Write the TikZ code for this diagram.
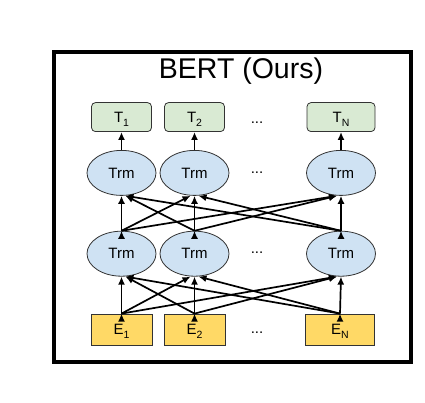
\documentclass[tikz,border=0pt]{standalone}
\usepackage{fontspec}
\setmainfont{Liberation Sans}
\usetikzlibrary{arrows.meta,positioning,shapes.geometric}
\definecolor{outGreen}{HTML}{D9EAD3}
\definecolor{trmBlue}{HTML}{CFE2F3}
\definecolor{embYellow}{HTML}{FFD966}
\definecolor{edgeGray}{HTML}{333333}
\newcommand{\lowsub}[1]{\raisebox{-4pt}{\fontsize{10.5}{12}\selectfont #1}}

\begin{document}
\begin{tikzpicture}[x=1pt,y=1pt,
				font=\fontsize{15}{17}\selectfont,
				>={Latex[length=8pt,width=7pt]},
				link/.style={->,line width=1.7pt},
				trm/.style={draw=edgeGray,fill=trmBlue,ellipse,line width=0.8pt,minimum width=69pt,minimum height=45pt,inner sep=0pt},
				outBox/.style={draw=edgeGray,fill=outGreen,rectangle,rounded corners=4pt,line width=0.8pt,minimum width=60pt,minimum height=29pt,inner sep=0pt,text depth=0pt},
				embBox/.style={draw=edgeGray,fill=embYellow,rectangle,line width=0.8pt,minimum width=61pt,minimum height=31pt,inner sep=0pt,text depth=0pt}]
			\useasboundingbox (0,0) rectangle (425,-403);
			\draw [line width=3.5pt] (54,-52) rectangle (411,-362);
			\node [anchor=base,font=\fontsize{28.5}{32}\selectfont] (title) at (241,-79) {BERT (Ours)};
			% embeddings
			\node [embBox] (e1) at (121.5,-329.5) {E\lowsub{1}};
			\node [embBox] (e2) at (194.5,-329.5) {E\lowsub{2}};
			\node [embBox,minimum width=69pt] (eN) at (340,-329.5) {E\lowsub{N}};
			\node (dotsE) at (257,-333) {...};
			% lower layer
			\node [trm,above=37pt of e1] (l1) {Trm};
			\node [trm,above=37pt of e2] (l2) {Trm};
			\node [trm,above=37pt of eN,xshift=1pt] (lN) {Trm};
			\node (dotsL) at (257,-253) {...};
			% upper layer
			\node [trm,above=35pt of l1] (u1) {Trm};
			\node [trm,above=35pt of l2] (u2) {Trm};
			\node [trm,above=35pt of lN] (uN) {Trm};
			\node (dotsU) at (257,-173) {...};
			% outputs
			\node [outBox,above=18pt of u1] (t1) {T\lowsub{1}};
			\node [outBox,above=18pt of u2] (t2) {T\lowsub{2}};
			\node [outBox,minimum width=68pt,above=18pt of uN] (tN) {T\lowsub{N}};
			\node (dotsT) at (257,-123) {...};

			\draw [link] (e1.north) edge (l1.south) edge ([xshift=-4pt]l2.south) edge ([xshift=-4pt]lN.south);
			\draw [link] (e2.north) edge ([xshift=4pt]l1.south) edge (l2.south) edge ([xshift=-4pt]lN.south);
			\draw [link] (eN.north) edge ([xshift=4pt]l1.south) edge ([xshift=4pt]l2.south) edge (lN.south);

			\draw [link] (l1.north) edge (u1.south) edge ([xshift=-4pt]u2.south) edge ([xshift=-4pt]uN.south);
			\draw [link] (l2.north) edge ([xshift=4pt]u1.south) edge (u2.south) edge ([xshift=-4pt]uN.south);
			\draw [link] (lN.north) edge ([xshift=4pt]u1.south) edge ([xshift=4pt]u2.south) edge (uN.south);

			\draw [link] (u1) -- (t1);
			\draw [link] (u2) -- (t2);
			\draw [link] (uN) -- (tN);
		\end{tikzpicture}
\end{document}
